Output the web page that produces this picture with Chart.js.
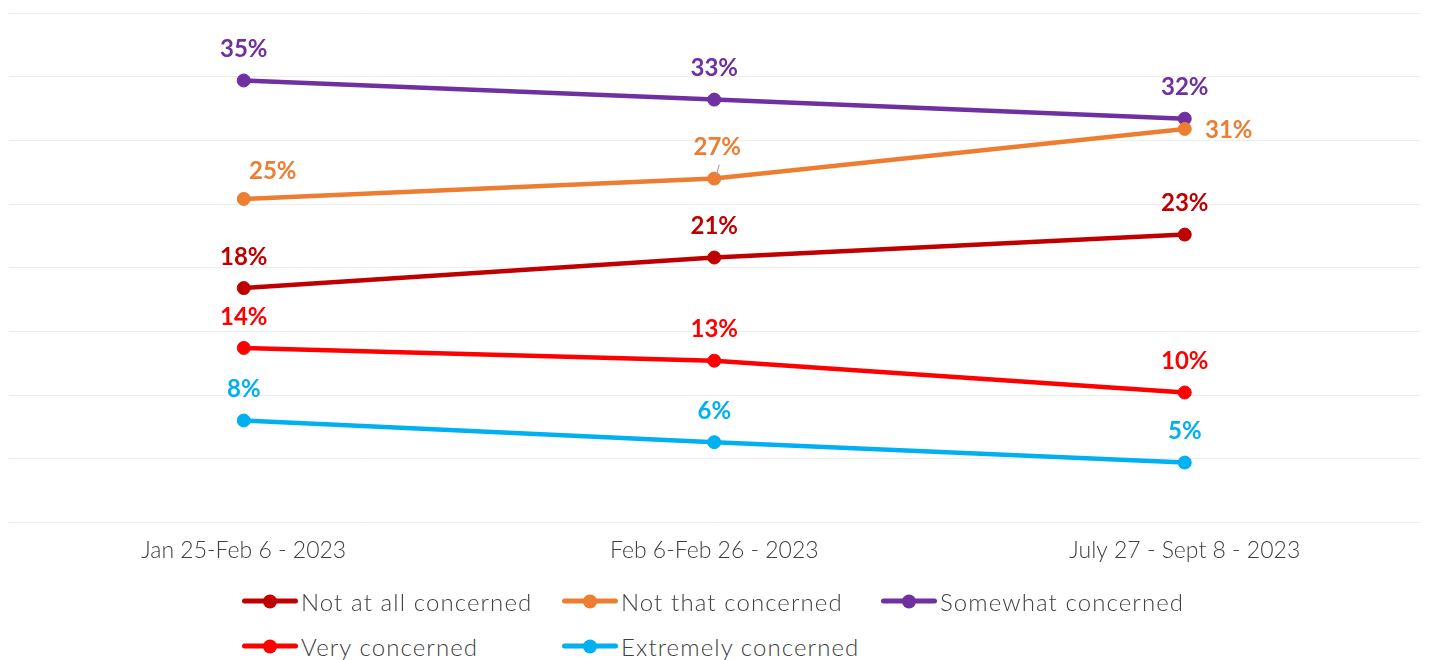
<!DOCTYPE html>
<html><head><meta charset="utf-8">
<script src="https://cdn.jsdelivr.net/npm/chart.js@4.4.0/dist/chart.umd.min.js"></script>
<style>
html,body{margin:0;padding:0;background:#fff;}
#wrap{position:relative;width:1429px;height:660px;overflow:hidden;}
#c{position:absolute;left:0;top:0;}
.lg{position:absolute;display:flex;align-items:center;font-family:Lato,sans-serif;font-weight:300;font-size:24px;color:#404040;letter-spacing:1.1px;white-space:nowrap;transform:translateY(-50%);}
.mk{position:relative;width:56px;height:14px;margin-right:3px;flex:none;}
.mk .ln{position:absolute;left:0;right:0;top:4.5px;height:5px;border-radius:2.5px;}
.mk .dt{position:absolute;left:21px;top:0;width:14px;height:14px;border-radius:50%;}
</style></head>
<body><div id="wrap"><canvas id="c" width="1429" height="594" style="width:1429px;height:594px"></canvas><div id="legend"></div></div>
<script>
// ---- data ----
const categories = ["Jan 25-Feb 6 - 2023", "Feb 6-Feb 26 - 2023", "July 27 - Sept 8 - 2023"];
const seriesNames = ["Not at all concerned", "Not that concerned", "Somewhat concerned", "Very concerned", "Extremely concerned"];
const notAtAllConcerned = [18.4, 20.8, 22.6];
const notThatConcerned = [25.4, 27.0, 30.9];
const somewhatConcerned = [34.7, 33.2, 31.7];
const veryConcerned = [13.7, 12.7, 10.2];
const extremelyConcerned = [8.0, 6.3, 4.7];
const yTicks = [0, 5, 10, 15, 20, 25, 30, 35, 40];

// ---- styles ----
const colors = ["#C00000", "#ED7D31", "#7030A0", "#FF0000", "#00B0F0"];
const seriesValues = [notAtAllConcerned, notThatConcerned, somewhatConcerned, veryConcerned, extremelyConcerned];
const labelOffsets = { "1-0": {dx: 29, dy: -28}, "1-1": {dx: 3, dy: -31, leader: true}, "1-2": {dx: 44, dy: 1} };
const defaultOffset = {dx: 0, dy: -31};
const legendPos = [[242, 601], [562, 601], [881, 601], [242, 646], [562, 646]];

const dataLabels = {
  id: 'dataLabels',
  afterDatasetsDraw(chart) {
    const ctx = chart.ctx;
    chart.data.datasets.forEach((ds, i) => {
      const meta = chart.getDatasetMeta(i);
      meta.data.forEach((pt, j) => {
        const o = labelOffsets[i + '-' + j] || defaultOffset;
        ctx.save();
        ctx.font = 'bold 24px Lato, sans-serif';
        ctx.fillStyle = ds.borderColor;
        ctx.textAlign = 'center';
        ctx.textBaseline = 'middle';
        ctx.fillText(Math.round(ds.data[j]) + '%', pt.x + o.dx, pt.y + o.dy);
        if (o.leader) {
          ctx.strokeStyle = '#A6A6A6';
          ctx.lineWidth = 1.2;
          ctx.beginPath();
          ctx.moveTo(pt.x + 5, pt.y - 14);
          ctx.lineTo(pt.x + 2, pt.y - 3);
          ctx.stroke();
        }
        ctx.restore();
      });
    });
  }
};

const chart = new Chart(document.getElementById('c'), {
  type: 'line',
  data: {
    labels: categories,
    datasets: seriesNames.map((name, i) => ({
      label: name,
      data: seriesValues[i],
      borderColor: colors[i],
      backgroundColor: colors[i],
      borderWidth: 4.5,
      pointRadius: 6.5,
      pointBorderWidth: 1,
      pointHoverRadius: 6.5,
      tension: 0,
      fill: false,
      clip: false
    }))
  },
  options: {
    responsive: false,
    animation: false,
    events: [],
    layout: { padding: { left: 8.5, right: 9, top: 13, bottom: 16 } },
    plugins: { legend: { display: false }, tooltip: { enabled: false } },
    scales: {
      x: {
        offset: true,
        grid: { display: false, drawTicks: false },
        border: { display: false },
        ticks: { color: '#404040', padding: 14, font: { family: 'Lato', size: 23, weight: '300' } }
      },
      y: {
        min: 0, max: 40,
        afterBuildTicks: (axis) => { axis.ticks = yTicks.map(v => ({ value: v })); },
        grid: { color: '#EEEEEE', lineWidth: 1, drawTicks: false },
        border: { display: false },
        ticks: { display: false }
      }
    }
  },
  plugins: [dataLabels]
});

const lg = document.getElementById('legend');
seriesNames.forEach((name, i) => {
  const d = document.createElement('div');
  d.className = 'lg';
  d.style.left = legendPos[i][0] + 'px';
  d.style.top = legendPos[i][1] + 'px';
  d.innerHTML = '<span class="mk"><span class="ln" style="background:' + colors[i] + '"></span><span class="dt" style="background:' + colors[i] + '"></span></span><span>' + name + '</span>';
  lg.appendChild(d);
});
</script>
</body></html>
